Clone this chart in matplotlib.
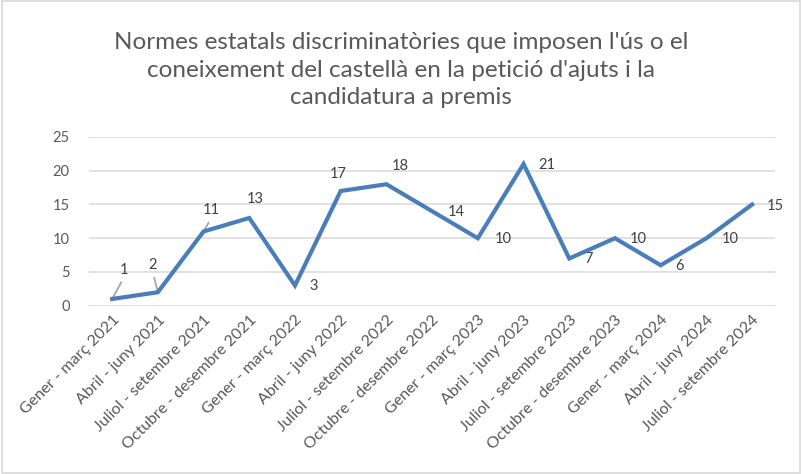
import matplotlib.pyplot as plt
from matplotlib.patches import Rectangle

periods = [
    "Gener - març 2021", "Abril - juny 2021", "Juliol - setembre 2021",
    "Octubre - desembre 2021", "Gener - març 2022", "Abril - juny 2022",
    "Juliol - setembre 2022", "Octubre - desembre 2022", "Gener - març 2023",
    "Abril - juny 2023", "Juliol - setembre 2023", "Octubre - desembre 2023",
    "Gener - març 2024", "Abril - juny 2024", "Juliol - setembre 2024",
]
counts = [1, 2, 11, 13, 3, 17, 18, 14, 10, 21, 7, 10, 6, 10, 15]
y_ticks = [0, 5, 10, 15, 20, 25]

TITLE = ("Normes estatals discriminatòries que imposen l'ús o el\n"
         "coneixement del castellà en la petició d'ajuts i la\n"
         "candidatura a premis")

# label offsets in pixels (dx, dy up), and whether a leader line is drawn
label_offsets = [
    (12, 29, True), (-5, 27, True), (8, 21, True), (6, 19, False),
    (19, -1, False), (-2, 17, False), (14, 18, False), (24, -1, False),
    (25, -1, False), (23, -1, False), (19, -1, False), (23, -1, False),
    (19, -1, False), (24, -1, False), (23, -2, False),
]

plt.rcParams["font.family"] = ["Lato", "DejaVu Sans"]

fig = plt.figure(figsize=(8.02, 4.74), dpi=100)
fig.patches.append(Rectangle((0.002, 0.003), 0.996, 0.994, transform=fig.transFigure,
                             fill=False, edgecolor="#d9d9d9", linewidth=1.2))

ax = fig.add_axes([0.1113, 0.355, 0.855, 0.356])
x = list(range(len(periods)))
ax.plot(x, counts, color="#4a7ebb", linewidth=3, solid_joinstyle="miter", zorder=3)

ax.set_xlim(-0.5, len(periods) - 0.5)
ax.set_ylim(0, 25)
ax.set_yticks(y_ticks)
ax.yaxis.grid(True, color="#d9d9d9", linewidth=1.1)
ax.set_axisbelow(True)
for s in ax.spines.values():
    s.set_visible(False)
ax.tick_params(axis="both", length=0, labelsize=10.5, colors="#595959")
ax.tick_params(axis="y", pad=14)
ax.set_xticks(x)
ax.set_xticklabels(periods, rotation=45, ha="right", va="top", rotation_mode="anchor",
                   fontsize=11.5)
ax.tick_params(axis="x", pad=5)

px = 0.72
for xi, v, (dx, dy, leader) in zip(x, counts, label_offsets):
    kw = {}
    if leader:
        kw["arrowprops"] = dict(arrowstyle="-", color="#a6a6a6", linewidth=1.3,
                                shrinkA=2, shrinkB=0, relpos=(0.5, 0.0))
    ax.annotate(str(v), (xi, v), xytext=(dx * px, dy * px), textcoords="offset points",
                ha="center", va="center", fontsize=10.5, color="#404040",
                annotation_clip=False, zorder=2, **kw)

fig.text(0.5, 0.852, TITLE, ha="center", va="center", fontsize=17.5,
         color="#595959", linespacing=1.38)

fig.savefig("out.png", dpi=100)
